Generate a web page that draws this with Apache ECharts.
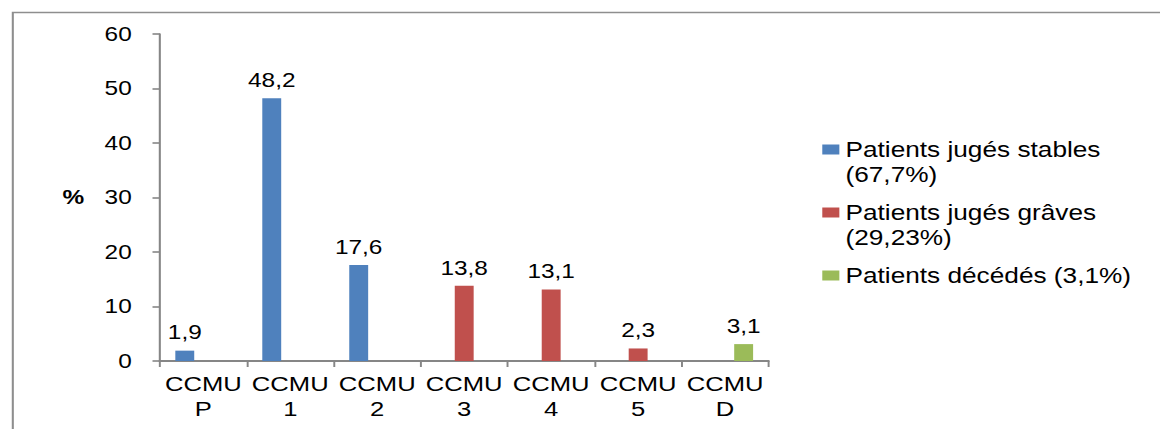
<!DOCTYPE html>
<html>
<head>
<meta charset="utf-8">
<script src="https://cdn.jsdelivr.net/npm/echarts@6/dist/echarts.min.js"></script>
<style>
  html, body { margin: 0; padding: 0; background: #fff; overflow: hidden; }
  #wrap { width: 1160px; height: 429px; overflow: hidden; }
  /* the figure is drawn slightly condensed and widened to full width */
  #chart { width: 951px; height: 429px; transform: scaleX(1.22); transform-origin: 0 0; }
</style>
</head>
<body>
<div id="wrap"><div id="chart"></div></div>
<script>
// CCMU classes
const categories = ['CCMU\nP', 'CCMU\n1', 'CCMU\n2', 'CCMU\n3', 'CCMU\n4', 'CCMU\n5', 'CCMU\nD'];

// share of patients (%) per class, split by outcome group
const stables = [1.9, 48.2, 17.6, null, null, null, null];
const graves  = [null, null, null, 13.8, 13.1, 2.3, null];
const decedes = [null, null, null, null, null, null, 3.1];

const seriesNames = [
  'Patients jugés stables\n(67,7%)',
  'Patients jugés grâves\n(29,23%)',
  'Patients décédés (3,1%)'
];
const colors = ['#4f81bd', '#c0504d', '#9bbb59'];

const yTicks = { min: 0, max: 60, interval: 10 };

const FONT = '"Liberation Sans", Arial, sans-serif';
const AXIS_GRAY = '#868686';

const chart = echarts.init(document.getElementById('chart'), null, { renderer: 'svg' });

function barSeries(name, data, color) {
  return {
    name: name,
    type: 'bar',
    data: data,
    barWidth: 15.5,
    barGap: '-2%',
    itemStyle: { color: color },
    label: {
      show: true,
      position: 'top',
      distance: 8,
      color: '#000',
      fontFamily: FONT,
      fontSize: 20,
      formatter: p => String(p.value).replace('.', ',')
    }
  };
}

// one legend per group so each entry can be placed on its own;
// two-line entries get a blank leading line so the swatch sits on the first line
function legendFor(i, top) {
  const twoLines = seriesNames[i].indexOf('\n') >= 0;
  return {
    data: [seriesNames[i]],
    orient: 'vertical',
    left: 669,
    top: top,
    itemWidth: 14,
    itemHeight: 10,
    itemGap: 0,
    icon: 'rect',
    selectedMode: false,
    formatter: name => (twoLines ? '\u00a0\n' + name : name),
    textStyle: {
      color: '#000',
      fontFamily: FONT,
      fontSize: 21.5,
      lineHeight: 25
    }
  };
}

chart.setOption({
  animation: false,
  color: colors,
  textStyle: { fontFamily: FONT },
  graphic: [{
    type: 'rect',
    left: 8,
    top: 10,
    shape: { width: 1000, height: 500 },
    style: { fill: 'none', stroke: '#8e8e8e', lineWidth: 1.7 },
    silent: true
  }],
  grid: { left: 131, right: 321, top: 34, bottom: 68 },
  legend: [legendFor(0, 107), legendFor(1, 170), legendFor(2, 258)],
  xAxis: {
    type: 'category',
    data: categories,
    axisLine: { lineStyle: { color: AXIS_GRAY, width: 2 } },
    axisTick: { show: true, alignWithLabel: false, length: 6, lineStyle: { color: AXIS_GRAY, width: 1.6 } },
    axisLabel: {
      color: '#000',
      fontFamily: FONT,
      fontSize: 21,
      lineHeight: 25,
      margin: 10,
      interval: 0
    },
    splitLine: { show: false }
  },
  yAxis: {
    type: 'value',
    min: yTicks.min,
    max: yTicks.max,
    interval: yTicks.interval,
    name: '%',
    nameLocation: 'middle',
    nameRotate: 0,
    nameGap: 62,
    nameTextStyle: { color: '#000', fontFamily: FONT, fontSize: 20, fontWeight: 'bold' },
    axisLine: { show: true, lineStyle: { color: AXIS_GRAY, width: 1.7 } },
    axisTick: { show: true, length: 6, lineStyle: { color: AXIS_GRAY, width: 1.6 } },
    axisLabel: { color: '#000', fontFamily: FONT, fontSize: 20, margin: 23 },
    splitLine: { show: false }
  },
  series: [
    barSeries(seriesNames[0], stables, colors[0]),
    barSeries(seriesNames[1], graves, colors[1]),
    barSeries(seriesNames[2], decedes, colors[2])
  ]
});
</script>
</body>
</html>
